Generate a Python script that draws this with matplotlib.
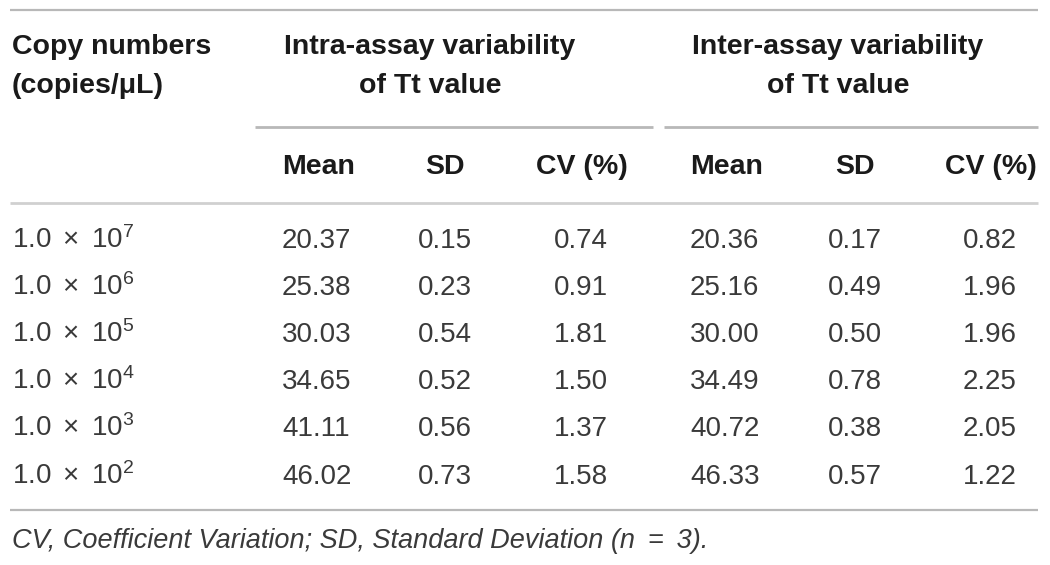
import matplotlib
matplotlib.use("Agg")
import matplotlib.pyplot as plt

plt.rcParams['font.family'] = ['Liberation Sans', 'DejaVu Sans']
plt.rcParams['mathtext.fontset'] = 'custom'
plt.rcParams['mathtext.rm'] = 'Liberation Sans'
plt.rcParams['mathtext.it'] = 'Liberation Sans:italic'

# table data
exponents = [7, 6, 5, 4, 3, 2]
intra_mean = ["20.37", "25.38", "30.03", "34.65", "41.11", "46.02"]
intra_sd = ["0.15", "0.23", "0.54", "0.52", "0.56", "0.73"]
intra_cv = ["0.74", "0.91", "1.81", "1.50", "1.37", "1.58"]
inter_mean = ["20.36", "25.16", "30.00", "34.49", "40.72", "46.33"]
inter_sd = ["0.17", "0.49", "0.50", "0.78", "0.38", "0.57"]
inter_cv = ["0.82", "1.96", "1.96", "2.25", "2.05", "1.22"]
sub_headers = ["Mean", "SD", "CV (%)"]
footnote = "CV, Coefficient Variation; SD, Standard Deviation (n \u2009=\u2009 3)."

W, H = 1050, 565
fig = plt.figure(figsize=(W / 100, H / 100), dpi=100)
ax = fig.add_axes([0, 0, 1, 1])
ax.set_xlim(0, W)
ax.set_ylim(H, 0)
ax.axis("off")

head_col = "#1a1a1a"
body_col = "#3a3a3a"
line_col = "#b8b8b8"
fs_head = 20.5
fs_body = 20

# rules
ax.hlines(10, 10, 1038, color=line_col, lw=1.6)
ax.hlines(127, 255, 653, color=line_col, lw=2.0)
ax.hlines(127, 664, 1038, color=line_col, lw=2.0)
ax.hlines(203, 10, 1038, color="#d0d0d0", lw=2.0)
ax.hlines(510, 10, 1038, color=line_col, lw=1.6)

# header
ax.text(12, 47, "Copy numbers", fontsize=fs_head, fontweight="bold",
        color=head_col, va="center", ha="left")
ax.text(12, 86, "(copies/\u03bcL)", fontsize=fs_head, fontweight="bold",
        color=head_col, va="center", ha="left")
for cx, label in [(430, "Intra-assay variability"), (838, "Inter-assay variability")]:
    ax.text(cx, 47, label, fontsize=fs_head, fontweight="bold",
            color=head_col, va="center", ha="center")
    ax.text(cx, 86, "of Tt value", fontsize=fs_head, fontweight="bold",
            color=head_col, va="center", ha="center")

# column layout: (x, ha) for Mean, SD, CV in each group
groups = [
    [(282, "left"), (445, "center"), (581, "center")],
    [(690, "left"), (855, "center"), (990, "center")],
]
for g in groups:
    for (x, ha), label in zip(g, sub_headers):
        if label.startswith("CV"):
            x, ha = x + 47, "right"
        ax.text(x, 167, label, fontsize=fs_head, fontweight="bold",
                color=head_col, va="center", ha=ha)

row_y0, row_dy = 247.5, 47.2
columns = [intra_mean, intra_sd, intra_cv, inter_mean, inter_sd, inter_cv]
layout = groups[0] + groups[1]
for i, e in enumerate(exponents):
    y = row_y0 + i * row_dy
    ax.text(12, y, "$1.0\\ \\times\\ 10^{%d}$" % e, fontsize=fs_body,
            color=body_col, va="baseline", ha="left")
    for (x, ha), col in zip(layout, columns):
        ax.text(x, y, col[i], fontsize=fs_body, color=body_col,
                va="baseline", ha=ha)

ax.text(12, 541, footnote, fontsize=19.5, style="italic",
        color=body_col, va="center", ha="left")

fig.savefig("out.png", dpi=100)
